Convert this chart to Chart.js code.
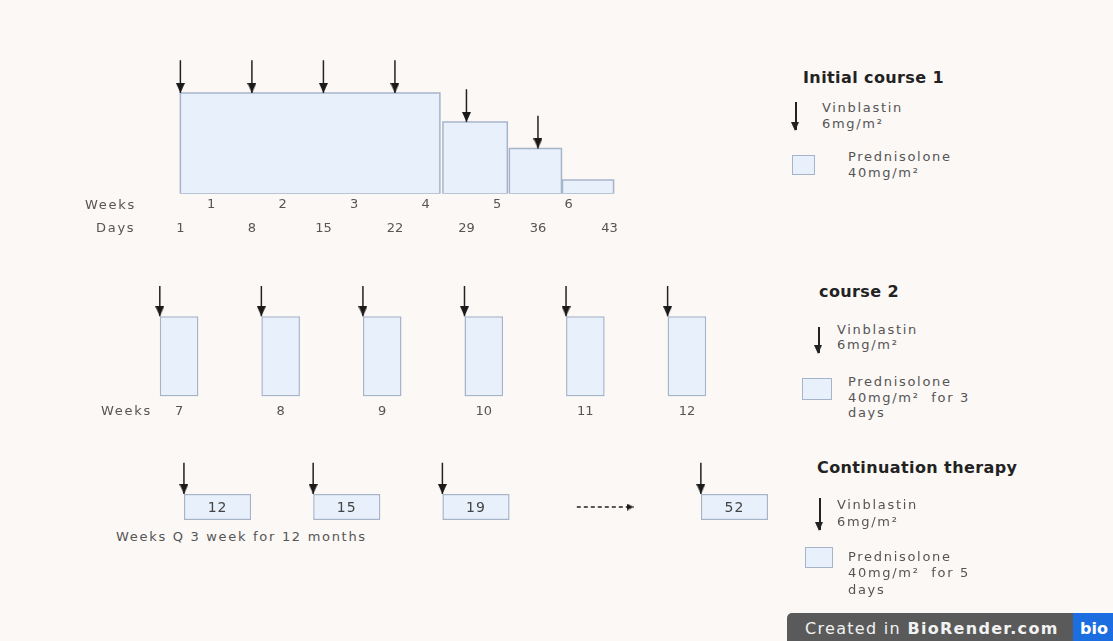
<!DOCTYPE html>
<html lang="en">
<head>
<meta charset="utf-8">
<title>Vinblastin / Prednisolone schedule</title>
<script src="https://cdn.jsdelivr.net/npm/chart.js@4.4.1/dist/chart.umd.min.js"></script>
<style>
  html, body { margin: 0; padding: 0; background: #fcf8f6; }
  #page { position: relative; width: 1113px; height: 641px; overflow: hidden; font-family: "DejaVu Sans", sans-serif; }
  #page canvas { position: absolute; }
  .t { position: absolute; white-space: pre; font-size: 13px; letter-spacing: 1.7px; color: #555; line-height: 15px; }
  .h { position: absolute; white-space: nowrap; font-size: 16px; font-weight: bold; letter-spacing: 0.4px; color: #222; line-height: 18px; }
  .arr { position: absolute; width: 1.5px; background: #222; }
  .arr::after { content: ""; position: absolute; left: -3.75px; bottom: -1px;
                border-left: 4.5px solid transparent; border-right: 4.5px solid transparent; border-top: 9px solid #222; }
  .sq { position: absolute; box-sizing: border-box; background: #e8f1fb; border: 1.5px solid #a6b4ca; }
  #badge { position: absolute; left: 787px; top: 613px; width: 330px; height: 30px; background: #5a5a5a; border-top-left-radius: 5px; }
  #badge .bt { position: absolute; left: 18px; top: 0; line-height: 31px; font-size: 16px; letter-spacing: 1.3px; color: #f2f2f2; white-space: nowrap; }
  #badge .bio { position: absolute; left: 286px; top: 0; width: 44px; height: 30px; background: #1c6ee0; }
  #badge .bio span { position: absolute; left: 7px; line-height: 31px; font-size: 16px; font-weight: bold; color: #fff; }
</style>
</head>
<body>
<div id="page">
  <canvas id="c1" width="613" height="201" style="left:68px;top:40px"></canvas>
  <canvas id="c2" width="650" height="156" style="left:108px;top:270px"></canvas>
  <canvas id="c3" width="672" height="66" style="left:140px;top:455px"></canvas>

  <!-- row titles -->
  <div class="t" style="left:85px;top:197px">Weeks</div>
  <div class="t" style="left:96px;top:220px">Days</div>
  <div class="t" style="left:101px;top:403px">Weeks</div>
  <div class="t" style="left:116px;top:529px">Weeks Q 3 week for 12 months</div>

  <!-- legend: initial course 1 -->
  <div class="h" style="left:803px;top:69px">Initial course 1</div>
  <div class="arr" style="left:795px;top:102px;height:28px"></div>
  <div class="t" style="left:822px;top:100px;line-height:15.6px">Vinblastin
6mg/m²</div>
  <div class="sq" style="left:792px;top:155px;width:23px;height:20px"></div>
  <div class="t" style="left:848px;top:149px;line-height:15.6px">Prednisolone
40mg/m²</div>

  <!-- legend: course 2 -->
  <div class="h" style="left:819px;top:283px">course 2</div>
  <div class="arr" style="left:818px;top:327px;height:26px"></div>
  <div class="t" style="left:837px;top:322px">Vinblastin
6mg/m²</div>
  <div class="sq" style="left:802px;top:378px;width:30px;height:22px"></div>
  <div class="t" style="left:848px;top:374px;line-height:15.6px">Prednisolone
40mg/m²  for 3
days</div>

  <!-- legend: continuation therapy -->
  <div class="h" style="left:817px;top:459px">Continuation therapy</div>
  <div class="arr" style="left:819px;top:498px;height:32px"></div>
  <div class="t" style="left:837px;top:497px;line-height:16.5px">Vinblastin
6mg/m²</div>
  <div class="sq" style="left:805px;top:547px;width:28px;height:21px"></div>
  <div class="t" style="left:848px;top:549px;line-height:16.4px">Prednisolone
40mg/m²  for 5
days</div>

  <div id="badge"><span class="bt">Created in <b>BioRender.com</b></span><div class="bio"><span>bio</span></div></div>
</div>

<script>
// ---- initial course 1 (x in days) ----
const c1VinDays = [1, 8, 15, 22, 29, 36];
const c1PredStart = [1, 26.7, 33.2, 38.4];
const c1PredEnd = [26.4, 33.0, 38.3, 43.4];
const c1PredDose = [40, 28.5, 18, 5.5];
const c1WeekLabels = ["1", "2", "3", "4", "5", "6"];
const c1DayLabels = ["1", "8", "15", "22", "29", "36", "43"];

// ---- course 2 (x in weeks) ----
const c2Weeks = [7, 8, 9, 10, 11, 12];
const c2PredDose = 40;

// ---- continuation therapy (one slot per drawn dose, "" = dashed "and so on") ----
const contWeeks = ["12", "15", "19", "", "52"];
const contPredDose = 40;

const BOX_FILL = "#e8f1fb";
const BOX_LINE = "#a6b4ca";
const INK = "#222";
const TICK_FONT = { family: "DejaVu Sans", size: 13 };

// arrow head image: tip sits at the centre of the image, so it lands on the point
function arrowHead(w, h) {
  const c = document.createElement("canvas");
  c.width = w;
  c.height = h * 2;
  const g = c.getContext("2d");
  g.fillStyle = "#1a1a1a";
  g.beginPath();
  g.moveTo(0, 0);
  g.lineTo(w, 0);
  g.lineTo(w / 2, h);
  g.closePath();
  g.fill();
  return c;
}
const HEAD = arrowHead(9, 10);
const SMALL_HEAD = arrowHead(7, 7);

function arrowSet(x, yTop, yTip) {
  return {
    type: "line",
    data: [{ x: x, y: yTop }, { x: x, y: yTip }],
    borderColor: INK,
    borderWidth: 1.5,
    pointRadius: [0, 5],
    pointStyle: HEAD,
    fill: false,
    order: 0,
  };
}

const quiet = {
  responsive: false,
  animation: false,
  events: [],
  layout: { autoPadding: false },
  plugins: { legend: { display: false }, tooltip: { enabled: false } },
};

function tickAxis(values, labels, padding, weight) {
  return {
    type: "linear",
    axis: "x",
    position: "bottom",
    weight: weight,
    grid: { display: false, drawTicks: false },
    border: { display: false },
    afterBuildTicks: (ax) => {
      ax.ticks = values.map((v) => ({ value: v }));
    },
    afterFit: (ax) => {
      ax.paddingLeft = 0;
      ax.paddingRight = 0;
    },
    ticks: {
      autoSkip: false,
      maxRotation: 0,
      padding: padding,
      font: TICK_FONT,
      color: "#555",
      callback: (v, i) => labels[i],
    },
  };
}

// ---------- chart 1 ----------
const c1Boxes = c1PredStart.map((s, i) => ({
  type: "line",
  data: [
    { x: s, y: 0 },
    { x: s, y: c1PredDose[i] },
    { x: c1PredEnd[i], y: c1PredDose[i] },
    { x: c1PredEnd[i], y: 0 },
    { x: s, y: 0 },
  ],
  fill: "shape",
  backgroundColor: BOX_FILL,
  borderColor: BOX_LINE,
  borderWidth: 1.5,
  pointRadius: 0,
  order: 1,
}));

function doseOnDay(d) {
  const i = c1PredStart.findIndex((s, k) => d >= s && d <= c1PredEnd[k]);
  return i < 0 ? 0 : c1PredDose[i];
}
const ARROW1 = 13;
const c1Arrows = c1VinDays.map((d) => arrowSet(d, doseOnDay(d) + ARROW1, doseOnDay(d)));

const weekX = tickAxis(c1WeekLabels.map((w) => 7 * Number(w) - 3), c1WeekLabels, 3, 0);
const dayX = tickAxis(c1DayLabels.map(Number), c1DayLabels, 5, 1);
weekX.min = dayX.min = -10;
weekX.max = dayX.max = 50;

new Chart(document.getElementById("c1"), {
  type: "line",
  data: { datasets: [...c1Boxes, ...c1Arrows] },
  options: {
    ...quiet,
    scales: {
      x: weekX,
      xDays: dayX,
      y: { display: false, min: 0, max: 61 },
    },
  },
});

// ---------- chart 2 ----------
const C2_BAR = 0.38;
const ARROW2 = 15;
const c2X = tickAxis(c2Weeks, c2Weeks.map(String), 7, 0);
c2X.min = 6.3;
c2X.max = 12.7;
c2X.offset = false;

new Chart(document.getElementById("c2"), {
  type: "bar",
  data: {
    datasets: [
      {
        data: c2Weeks.map((w) => ({ x: w, y: c2PredDose })),
        backgroundColor: BOX_FILL,
        borderColor: BOX_LINE,
        borderWidth: 1.5,
        borderSkipped: false,
        categoryPercentage: 1,
        barPercentage: C2_BAR,
        order: 1,
      },
      ...c2Weeks.map((w) => arrowSet(w - C2_BAR / 2, c2PredDose + ARROW2, c2PredDose)),
    ],
  },
  options: {
    ...quiet,
    scales: {
      x: c2X,
      y: { display: false, min: 0, max: 63 },
    },
  },
});

// ---------- chart 3 ----------
const C3_BAR = 0.52;
const ARROW3 = 48;
const DASH_HALF = 0.22;
const contSlots = contWeeks.map((w, i) => i).filter((i) => contWeeks[i] !== "");
const dashSlot = contWeeks.indexOf("");

const boxLabels = {
  id: "boxLabels",
  afterDatasetsDraw(chart) {
    const ctx = chart.ctx;
    const meta = chart.getDatasetMeta(0);
    ctx.save();
    ctx.font = '14px "DejaVu Sans"';
    ctx.letterSpacing = "1px";
    ctx.fillStyle = "#444";
    ctx.textAlign = "center";
    ctx.textBaseline = "middle";
    meta.data.forEach((bar, i) => {
      const p = bar.getCenterPoint();
      ctx.fillText(contWeeks[contSlots[i]], p.x, p.y + 1);
    });
    ctx.restore();
  },
};

new Chart(document.getElementById("c3"), {
  type: "bar",
  data: {
    datasets: [
      {
        data: contSlots.map((i) => ({ x: i, y: contPredDose })),
        backgroundColor: BOX_FILL,
        borderColor: BOX_LINE,
        borderWidth: 1.5,
        borderSkipped: false,
        categoryPercentage: 1,
        barPercentage: C3_BAR,
        order: 1,
      },
      ...contSlots.map((i) => arrowSet(i - C3_BAR / 2, contPredDose + ARROW3, contPredDose)),
      {
        type: "line",
        data: [
          { x: dashSlot - DASH_HALF, y: contPredDose / 2 },
          { x: dashSlot + DASH_HALF, y: contPredDose / 2 },
        ],
        borderColor: INK,
        borderWidth: 1.5,
        borderDash: [4, 3],
        pointRadius: [0, 4],
        pointStyle: SMALL_HEAD,
        pointRotation: -90,
        fill: false,
        order: 0,
      },
    ],
  },
  options: {
    ...quiet,
    layout: { autoPadding: false, padding: { bottom: 1 } },
    scales: {
      x: {
        type: "linear",
        display: false,
        offset: false,
        min: -0.6,
        max: 4.6,
        afterBuildTicks: (ax) => {
          ax.ticks = contWeeks.map((w, i) => ({ value: i }));
        },
      },
      y: { display: false, min: 0, max: 100 },
    },
  },
  plugins: [boxLabels],
});
</script>
</body>
</html>
